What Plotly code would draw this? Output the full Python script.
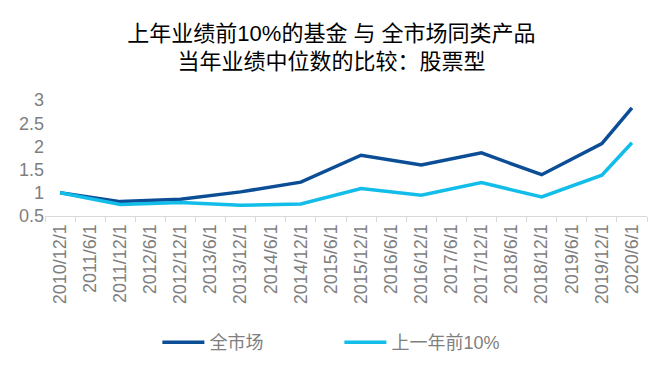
import plotly.graph_objects as go

categories = ["2010/12/1", "2011/6/1", "2011/12/1", "2012/6/1", "2012/12/1", "2013/6/1",
              "2013/12/1", "2014/6/1", "2014/12/1", "2015/6/1", "2015/12/1", "2016/6/1",
              "2016/12/1", "2017/6/1", "2017/12/1", "2018/6/1", "2018/12/1", "2019/6/1",
              "2019/12/1", "2020/6/1"]
whole_market = [1.0, None, 0.81, None, 0.86, None, 1.02, None, 1.23, None, 1.81, None,
                1.60, None, 1.86, None, 1.39, None, 2.06, 2.83]
top10_prev = [1.0, None, 0.75, None, 0.79, None, 0.73, None, 0.76, None, 1.09, None,
              0.95, None, 1.22, None, 0.91, None, 1.38, 2.08]
y_ticks = [0.5, 1, 1.5, 2, 2.5, 3]
y_tick_text = ["0.5", "1", "1.5", "2", "2.5", "3"]

FONT = "Liberation Sans, Arial, Noto Sans CJK SC, sans-serif"
GRAY = "#7f7f7f"

fig = go.Figure()
fig.add_trace(go.Scatter(x=categories, y=whole_market, name="全市场", mode="lines",
                         connectgaps=True, line=dict(color="#0b4e96", width=3.5)))
fig.add_trace(go.Scatter(x=categories, y=top10_prev, name="上一年前10%", mode="lines",
                         connectgaps=True, line=dict(color="#12bde9", width=3.5)))

fig.update_layout(
    width=663, height=372,
    paper_bgcolor="white", plot_bgcolor="white",
    margin=dict(l=45, r=16, t=100, b=156),
    font=dict(family=FONT, color=GRAY),
    title=dict(text="上年业绩前10%的基金 与 全市场同类产品<br>当年业绩中位数的比较：股票型",
               x=0.5, xanchor="center", y=0.891, yanchor="top",
               font=dict(size=22, color="#000000", family=FONT)),
    showlegend=True,
    legend=dict(orientation="h", x=0.489, xanchor="center", y=-1.09, yanchor="middle",
                font=dict(size=18, color=GRAY), itemwidth=42, tracegroupgap=0,
                entrywidth=125),
    xaxis=dict(type="category", tickangle=-90, tickfont=dict(size=18, color=GRAY),
               showgrid=False, showline=True, linecolor="#d9d9d9", linewidth=1,
               ticks="outside", tickson="boundaries", ticklen=5, tickcolor="#d9d9d9",
               range=[-0.5, len(categories) - 0.5]),
    yaxis=dict(range=[0.5, 3], tickvals=y_ticks, ticktext=y_tick_text,
               tickfont=dict(size=18, color=GRAY), showgrid=False, zeroline=False,
               showline=False, ticks=""),
)

fig.write_html("out.html")
